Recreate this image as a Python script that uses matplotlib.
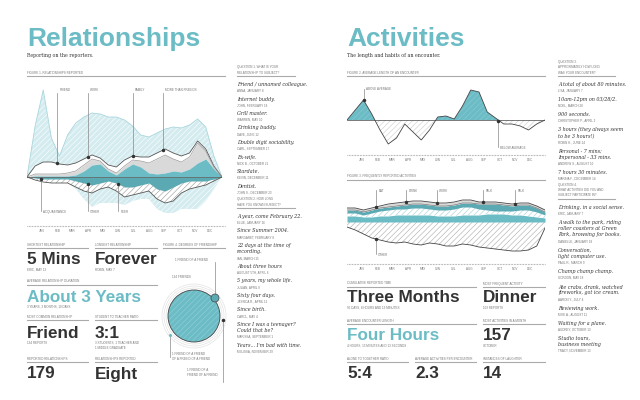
import numpy as np
import matplotlib
matplotlib.use("Agg")
import matplotlib.pyplot as plt

TEAL = "#6cbcc6"
LBLUE = "#d4ecef"
GREY = "#d9d9d9"
DARK = "#333333"
MID = "#777777"

months = ["JAN", "FEB", "MAR", "APR", "MAY", "JUN", "JUL", "AUG", "SEP", "OCT", "NOV", "DEC"]

# figure 1 - relationships stream (25 samples over the year)
rel_teal_up = [0, 1, 1, 1, 1, 1, 2, 6, 12, 13, 6, 2, 8, 13, 10, 4, 3, 4, 6, 5, 8, 14, 18, 8, 0]
rel_grey_up = [0, 2, 2, 2, 2, 3, 4, 6, 6, 3, 2, 2, 3, 4, 6, 10, 15, 18, 12, 10, 12, 20, 8, 2, 0]
rel_white_up = [0, 8, 12, 12, 10, 8, 8, 6, 4, 3, 4, 6, 6, 4, 4, 6, 6, 6, 6, 6, 4, 2, 2, 1, 0]
rel_blue_up = [0, 40, 72, 24, 8, 30, 40, 42, 42, 44, 48, 50, 40, 30, 22, 20, 20, 20, 26, 28, 28, 22, 22, 10, 0]
rel_teal_dn = [0, 1, 2, 2, 2, 2, 4, 6, 8, 6, 4, 6, 10, 10, 8, 6, 12, 14, 10, 6, 4, 4, 4, 2, 0]
rel_grey_dn = [0, 2, 3, 4, 4, 4, 6, 8, 8, 6, 6, 8, 10, 8, 8, 8, 10, 12, 14, 10, 8, 6, 4, 2, 0]
rel_blue_dn = [0, 0, 0, 0, 0, 0, 2, 8, 14, 14, 16, 12, 8, 6, 6, 8, 10, 10, 12, 16, 20, 22, 16, 8, 0]
rel_top_labels = [("FRIEND", 3.7), ("WORK", 7.5), ("FAMILY", 13.0), ("MORE THAN FRIENDS", 16.7)]
rel_bot_labels = [("ACQUAINTANCE", 1.7), ("OTHER", 7.5), ("PEER", 11.2)]

# figure 2 - average length of an encounter (deviation from average)
act_len = [0, 10, 20, 6, -10, -24, -18, -4, -12, -20, -10, 3, 4, 1, 14, 30, 28, 8, 2, -4, -4, -6, -10, -4, 0]

# figure 3 - frequently reported activities
act_hatch_dn = [5, 8, 12, 16, 18, 20, 21, 20, 22, 23, 21, 22, 24, 24, 22, 23, 25, 26, 27, 28, 29, 29, 28, 24, 6]
act_teal1 = [6, 6, 5, 5, 6, 6, 7, 7, 7, 7, 7, 6, 6, 6, 7, 7, 7, 8, 8, 8, 7, 7, 6, 5, 4]
act_light = [3, 3, 2, 4, 5, 6, 6, 6, 7, 7, 6, 6, 6, 7, 8, 8, 6, 4, 3, 3, 4, 5, 6, 5, 3]
act_teal2 = [3, 3, 3, 3, 3, 3, 3, 4, 4, 4, 4, 4, 4, 4, 4, 4, 5, 6, 7, 6, 5, 5, 5, 4, 3]
act_grey = [2, 2, 2, 2, 2, 3, 3, 3, 3, 3, 3, 3, 3, 3, 3, 3, 2, 2, 2, 2, 2, 2, 2, 2, 2]
act_labels = [("EAT", 3.5), ("DRINK", 7.2), ("WORK", 10.9), ("TALK", 16.5), ("TALK", 20.4)]

q1 = [("Friend / unnamed colleague.", "ANNA, JANUARY 8"), ("Internet buddy.", "JOHN, FEBRUARY 18"),
      ("Grill master.", "WARREN, MAY 10"), ("Drinking buddy.", "DAVE, JUNE 12"),
      ("Double digit sociability.", "CARL, SEPTEMBER 17"), ("Ex-wife.", "NICK B., OCTOBER 21"),
      ("Stardate.", "KEVIN, DECEMBER 11"), ("Dentist.", "JOHN S., DECEMBER 23")]
q2 = [("A year, come February 22.", "ELLIE, JANUARY 16"), ("Since Summer 2004.", "MARGARET, FEBRUARY 8"),
      ("22 days at the time of\nrecording.", "IAN, MARCH 15"), ("About three hours", "AUGUST 5TH, APRIL 6"),
      ("5 years, my whole life.", "JULIAN, APRIL 9"), ("Sixty four days.", "JESSICA R., APRIL 12"),
      ("Since birth.", "CAROL, MAY 4"), ("Since I was a teenager?\nCould that be?", "MARISSA, SEPTEMBER 1"),
      ("Years... I'm bad with time.", "MELISSA, NOVEMBER 29")]
q3 = [("A total of about 80 minutes.", "LISA, JANUARY 7"), ("10am-12pm on 03/28/2.", "NOEL, MARCH 28"),
      ("900 seconds.", "CHRISTOPHER P., APRIL 2"), ("3 hours (they always seem\nto be 3 hours!)", "ROBIN H., JUNE 24"),
      ("Personal - 7 mins;\nImpersonal - 33 mins.", "ANDREW S., AUGUST 10"),
      ("7 hours 30 minutes.", "MARINA F., DECEMBER 14")]
q4 = [("Drinking, in a social sense.", "ERIC, JANUARY 7"),
      ("A walk to the park, riding\nroller coasters at Green\nPark, browsing for books.", "DANIELLE, JANUARY 18"),
      ("Conversation,\nlight computer use.", "PAUL R., MARCH 9"), ("Champ champ champ.", "GORDON, MAY 18"),
      ("Ate crabs, drank, watched\nfireworks, got ice cream.", "AARON Y., JULY 4"),
      ("Reviewing work.", "MIKE A., AUGUST 11"), ("Waiting for a plane.", "AUDREY, OCTOBER 13"),
      ("Studio tours,\nbusiness meeting", "TRACY, NOVEMBER 13")]

fig = plt.figure(figsize=(6.4, 4.0), dpi=100)
W, H = 640, 400


def rect(x0, y0, x1, y1):
    return [x0 / W, 1 - y1 / H, (x1 - x0) / W, (y1 - y0) / H]


bg = fig.add_axes([0, 0, 1, 1])
bg.set_xlim(0, W); bg.set_ylim(H, 0); bg.axis("off")

SANS = "Liberation Sans"
SERIF = "DejaVu Serif"
plt.rcParams["hatch.linewidth"] = 0.4


def tiny(x, y, s, va="bottom", **kw):
    bg.text(x, y, s, fontsize=2.2, color=MID, family=SANS, va=va, linespacing=1.4, **kw)


def header(x0, x1, y, s):
    tiny(x0, y - 1.5, s)
    bg.plot([x0, x1], [y, y], color="#aaaaaa", lw=0.8)


def stat(x, y, big, sub, color=DARK):
    bg.text(x, y, big, fontsize=12.3, weight="bold", color=color, family=SANS, va="center")
    tiny(x, y + 8, sub, va="top")


def column(x, y0, items, step):
    y = y0
    for main, who in items:
        n = main.count("\n") + 1
        bg.text(x, y, main, fontsize=3.5, style="italic", color=DARK, family=SERIF,
                va="top", linespacing=1.3)
        tiny(x, y + 6.4 * n + 0.3, who, va="top")
        y += step + 6.4 * (n - 1)


# titles
bg.text(27, 46, "Relationships", fontsize=19, weight="bold", color=TEAL, family=SANS)
bg.text(27, 57, "Reporting on the reporters.", fontsize=3.3, color=DARK, family=SERIF)
bg.text(347, 46, "Activities", fontsize=19, weight="bold", color=TEAL, family=SANS)
bg.text(347, 57, "The length and habits of an encounter.", fontsize=3.3, color=DARK, family=SERIF)

header(27, 225, 76, "FIGURE 1. RELATIONSHIPS REPORTED")
header(347, 545, 76, "FIGURE 2. AVERAGE LENGTH OF AN ENCOUNTER")
header(347, 545, 180, "FIGURE 3. FREQUENTLY REPORTED ACTIVITIES")

# ---- figure 1 ----
ax1 = fig.add_axes(rect(27, 85, 222, 215))
x = np.arange(len(rel_teal_up))
b0 = np.zeros(len(x))
l1 = b0 + rel_teal_up
l2 = l1 + rel_grey_up
l3 = l2 + rel_white_up
l4 = l3 + rel_blue_up
ax1.fill_between(x, l3, l4, color=LBLUE, hatch="//////", edgecolor="white", lw=0)
ax1.plot(x, l4, color="#a9d6dd", lw=0.6)
ax1.fill_between(x, l2, l3, color="white", lw=0)
ax1.plot(x, l3, color="#555555", lw=0.6)
ax1.fill_between(x, l1, l2, color=GREY, lw=0)
ax1.plot(x, l2, color="#999999", lw=0.5)
ax1.fill_between(x, b0, l1, color=TEAL, lw=0)
d1 = b0 - rel_teal_dn
d2 = d1 - rel_grey_dn
d3 = d2 - rel_blue_dn
ax1.fill_between(x, d3, d2, color=LBLUE, hatch="//////", edgecolor="white", lw=0)
ax1.fill_between(x, d2, d1, color="white", hatch="//////", edgecolor="#999999", lw=0)
ax1.plot(x, d2, color="#555555", lw=0.6)
ax1.fill_between(x, d1, b0, color="#5aa9b3", lw=0)
ax1.axhline(0, color="#555555", lw=0.5)
ax1.set_xlim(0, 24); ax1.set_ylim(-38, 92); ax1.axis("off")
for name, xi in rel_top_labels:
    ax1.plot([xi, xi], [84, np.interp(xi, x, l3)], color="#888888", lw=0.5)
    ax1.plot(xi, np.interp(xi, x, l3), "o", ms=1.5, color=DARK)
    ax1.text(xi + 0.3, 86, name, fontsize=2.2, color=MID, family=SANS)
for name, xi in rel_bot_labels:
    ax1.plot([xi, xi], [-34, np.interp(xi, x, d1)], color="#888888", lw=0.5)
    ax1.plot(xi, np.interp(xi, x, d1), "o", ms=1.5, color=DARK)
    ax1.text(xi + 0.3, -36, name, fontsize=2.2, color=MID, family=SANS)


def month_axis(x0, x1, y):
    bg.plot([x0, x1], [y, y], color="#999999", lw=0.8, ls=(0, (0.6, 0.8)))
    for i, m in enumerate(months):
        bg.text(x0 + 15 + i * (x1 - x0 - 30) / 11, y + 6, m, fontsize=2.2, color=MID,
                family=SANS, ha="center")


month_axis(27, 225, 226)
month_axis(347, 545, 155)
month_axis(347, 545, 264)

# ---- figure 2 ----
ax2 = fig.add_axes(rect(347, 85, 545, 150))
xa = np.arange(len(act_len))
v = np.array(act_len, dtype=float)
ax2.fill_between(xa, 0, v, where=v >= 0, interpolate=True, color=TEAL, hatch="//////",
                 edgecolor="#8ccbd3", lw=0)
ax2.fill_between(xa, 0, v, where=v <= 0, interpolate=True, color="white", hatch="//////",
                 edgecolor="#cccccc", lw=0)
ax2.plot(xa, v, color="#444444", lw=0.6)
ax2.axhline(0, color="#444444", lw=0.5)
ax2.set_xlim(0, 24); ax2.set_ylim(-30, 35); ax2.axis("off")
ax2.plot([2, 2], [20, 31], color="#888888", lw=0.5); ax2.plot(2, 20, "o", ms=1.5, color=DARK)
ax2.text(2.3, 30, "ABOVE AVERAGE", fontsize=2.2, color=MID, family=SANS)
ax2.plot([18.3, 18.3], [-27, -1], color="#888888", lw=0.5); ax2.plot(18.3, -1, "o", ms=1.5, color=DARK)
ax2.text(18.6, -29, "BELOW AVERAGE", fontsize=2.2, color=MID, family=SANS)

# ---- figure 3 ----
ax3 = fig.add_axes(rect(347, 188, 545, 258))
xb = np.arange(len(act_teal1))
z = np.zeros(len(xb))
h0 = z - act_hatch_dn
c1 = z + act_teal1
c2 = c1 + act_light
c3 = c2 + act_teal2
c4 = c3 + act_grey
ax3.fill_between(xb, h0, z, color="white", hatch="//////", edgecolor="#aaaaaa", lw=0)
ax3.plot(xb, h0, color="#444444", lw=0.6)
ax3.fill_between(xb, z, c1, color=TEAL, lw=0)
ax3.fill_between(xb, c1, c2, color="white", hatch="//////", edgecolor="#9fd0d7", lw=0)
ax3.fill_between(xb, c2, c3, color="#5aa9b3", lw=0)
ax3.fill_between(xb, c3, c4, color=GREY, lw=0)
ax3.plot(xb, c4, color="#444444", lw=0.6)
ax3.plot(xb, c3, color="#666666", lw=0.4)
ax3.set_xlim(0, 24); ax3.set_ylim(-36, 34); ax3.axis("off")
for name, xi in act_labels:
    ax3.plot([xi, xi], [np.interp(xi, xb, c4), 32], color="#888888", lw=0.5)
    ax3.plot(xi, np.interp(xi, xb, c4), "o", ms=1.5, color=DARK)
    ax3.text(xi + 0.3, 30, name, fontsize=2.2, color=MID, family=SANS)
ax3.plot([3.5, 3.5], [np.interp(3.5, xb, h0), -32], color="#888888", lw=0.5)
ax3.plot(3.5, np.interp(3.5, xb, h0), "o", ms=1.5, color=DARK)
ax3.text(3.8, -34, "OTHER", fontsize=2.2, color=MID, family=SANS)

# ---- left stats ----
header(27, 88, 248, "SHORTEST RELATIONSHIP")
header(95, 157, 248, "LONGEST RELATIONSHIP")
stat(27, 260, "5 Mins", "ERIC, MAY 13")
stat(95, 260, "Forever", "ROBIN, MAY 7")
header(27, 157, 285, "AVERAGE RELATIONSHIP DURATION")
stat(27, 297, "About 3 Years", "3 YEARS, 3 MONTHS, 10 DAYS", color=TEAL)
header(27, 88, 320, "MOST COMMON RELATIONSHIP")
header(95, 157, 320, "STUDENT TO TEACHER RATIO")
stat(27, 333, "Friend", "134 REPORTS")
stat(95, 333, "3:1", "3 STUDENTS, 1 TEACHER AND\n1 MIDDLE GRADUATE")
header(27, 88, 362, "REPORTED RELATIONSHIPS")
header(95, 157, 362, "RELATIONSHIPS REPORTED")
stat(27, 374, "179", "")
stat(95, 374, "Eight", "")

# figure 4 circle
header(163, 225, 248, "FIGURE 4. DEGREES OF FRIENDSHIP")
ax4 = fig.add_axes(rect(159, 281, 229, 351))
ax4.set_xlim(-35, 35); ax4.set_ylim(-35, 35); ax4.set_aspect("equal"); ax4.axis("off")
for r in (28, 30, 32):
    ax4.add_patch(plt.Circle((0, 0), r, fill=False, ls=(0, (0.5, 1)), lw=0.5, color="#aaaaaa"))
ax4.add_patch(plt.Circle((0, 0), 26, facecolor=TEAL, edgecolor="#93d0d8", lw=0, hatch="//////"))
ax4.add_patch(plt.Circle((0, 0), 26, fill=False, edgecolor="#444444", lw=0.6))
ax4.add_patch(plt.Circle((21, 18), 4, facecolor="#5aa9b3", edgecolor="#444444", lw=0.5))
ax4.plot(29, -4, "o", ms=1.5, color=DARK)
ax4.plot(-24, -19, "o", ms=1.2, color=TEAL)
bg.plot([215, 215], [262, 294], color="#888888", lw=0.5)
tiny(175, 262, "1 FRIEND OF A FRIEND")
tiny(172, 279, "134 FRIENDS")
bg.plot([223, 223], [320, 382], color="#888888", lw=0.5)
bg.plot([170, 170], [335, 357], color="#888888", lw=0.5)
tiny(172, 361, "1 FRIEND OF A FRIEND\nOF A FRIEND OF A FRIEND")
tiny(187, 377, "1 FRIEND OF A\nFRIEND OF A FRIEND")

# ---- right stats ----
header(347, 476, 287, "CUMULATIVE REPORTED TIME")
header(483, 545, 287, "MOST FREQUENT ACTIVITY")
stat(347, 298, "Three Months", "95 DAYS, 8 HOURS AND 13 MINUTES")
stat(483, 298, "Dinner", "103 REPORTS")
header(347, 476, 324, "AVERAGE ENCOUNTER LENGTH")
header(483, 545, 324, "MOST ACTIVITIES IN A MONTH")
stat(347, 336, "Four Hours", "4 HOURS, 13 MINUTES AND 13 SECONDS", color=TEAL)
stat(483, 336, "157", "OCTOBER")
header(347, 408, 362, "ALONE TO TOGETHER RATIO")
header(415, 476, 362, "AVERAGE ACTIVITIES PER ENCOUNTER")
header(483, 545, 362, "INSTANCES OF LAUGHTER")
stat(347, 374, "5:4", "")
stat(415, 374, "2.3", "")
stat(483, 374, "14", "")

# ---- side columns ----
header(237, 295, 76, "QUESTION 1. WHAT IS YOUR\nRELATIONSHIP TO SUBJECT?")
column(237, 82, q1, 14.5)
header(237, 295, 208, "QUESTION 2. HOW LONG\nHAVE YOU KNOWN SUBJECT?")
column(237, 214, q2, 14.5)
header(558, 615, 76, "QUESTION 3.\nAPPROXIMATELY HOW LONG\nWAS YOUR ENCOUNTER?")
column(558, 82, q3, 15)
header(558, 615, 199, "QUESTION 4.\nWHAT ACTIVITIES DID YOU AND\nSUBJECT PARTICIPATE IN?")
column(558, 205, q4, 15)

fig.savefig("out.png", dpi=100, facecolor="white")
